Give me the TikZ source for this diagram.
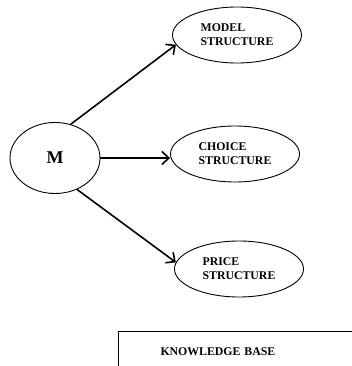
\documentclass[tikz,border=0pt]{standalone}
\usepackage{fontspec}
\setmainfont{Liberation Serif}
\usetikzlibrary{shapes.geometric,arrows.meta}

\tikzstyle{part}=[ellipse, draw, line width=0.9pt, minimum width=129pt,
                  minimum height=56pt, inner sep=0pt, align=left,
                  font=\bfseries\fontsize{11.8}{14}\selectfont]
\tikzstyle{link}=[-{Straight Barb[length=7pt,width=13pt]}, line width=1.6pt]

\begin{document}
\begin{tikzpicture}[x=1pt, y=-1pt]
\useasboundingbox (0,0) rectangle (352,366);
%%%%%%%%%%%%%%%%%%%%%%%%%%%%%%
% nodes

\node (m) at (55, 158) [ellipse, draw, line width=0.9pt, minimum width=90pt,
      minimum height=71pt, inner sep=0pt] {\bfseries\fontsize{18}{18}\selectfont M};

\node (model) at (237, 35) [part] {MODEL\\STRUCTURE};

\node (choice) at (235, 154) [part] {CHOICE\\STRUCTURE};

\node (price) at (239, 269) [part] {PRICE\\STRUCTURE};

% knowledge base
\node (kb) at (118, 331) [anchor=north west, draw, line width=1pt, inner xsep=42pt,
      text width=200pt, minimum height=40pt, align=left,
      font=\bfseries\fontsize{11.8}{14}\selectfont] {KNOWLEDGE BASE};

%%%%%%%%%%%%%%%%%%%%%%%%%%%%%%
% links

\draw [link] (m.65) -- (model.189);
\draw [link] (m.east) -- (m.east -| choice.west);
\draw [link] (m.305) -- (price.174);

\end{tikzpicture}
\end{document}
